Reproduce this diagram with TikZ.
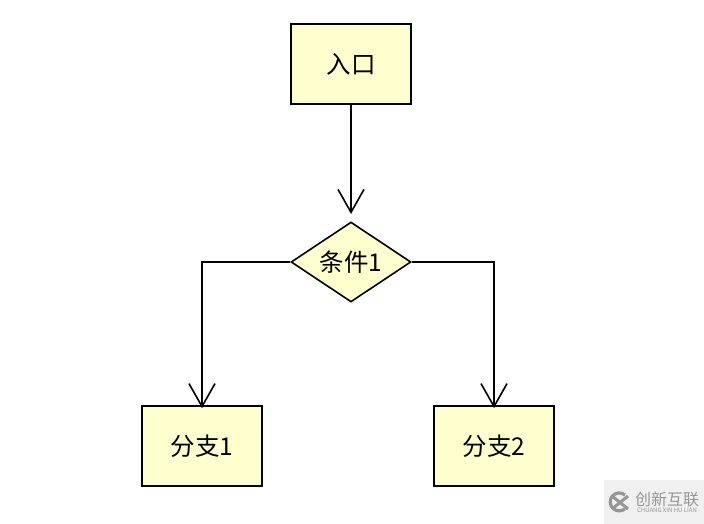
\documentclass[tikz,border=0pt]{standalone}
\usepackage{fontspec}
\setmainfont{Noto Sans CJK SC}
\usetikzlibrary{shapes.geometric,arrows.meta}
\definecolor{boxfill}{RGB}{254,254,206}
\definecolor{markgray}{RGB}{150,150,150}
\definecolor{markbg}{RGB}{240,240,240}
\tikzset{
  boxnode/.style={draw=black,fill=boxfill,line width=1.6pt,minimum width=120pt,minimum height=80pt,inner sep=0pt,font=\fontsize{24.5}{26}\selectfont},
  condnode/.style={diamond,aspect=1.5,draw=black,fill=boxfill,line width=1.6pt,minimum width=120pt,minimum height=80pt,inner sep=0pt,font=\fontsize{24.5}{26}\selectfont},
  flow/.style={draw=black,line width=1.6pt,-{Straight Barb[length=23pt,width=26pt,line width=1.6pt]}},
}
\begin{document}
\begin{tikzpicture}[x=1pt,y=-1pt]
\useasboundingbox (0,0) rectangle (704,524);
\node[boxnode] (entry) at (351,64) {入口};
\node[condnode] (cond) at (351,262) {条件1};
\node[boxnode] (left) at (202,446) {分支1};
\node[boxnode] (right) at (494,446) {分支2};
\coordinate (condtop) at (351,214);
\coordinate (leftturn) at (202,262);
\coordinate (rightturn) at (494,262);
\draw[flow] (entry.south) -- (condtop);
\draw[flow,shorten >=-3pt] (cond.west) -- (leftturn) -- (left.north);
\draw[flow,shorten >=-3pt] (cond.east) -- (rightturn) -- (right.north);
% watermark
\fill[markbg] (604,480) rectangle (704,524);
\draw[markgray,line width=3.2pt] (625,495) arc (-50:-310:9);
\draw[markgray,line width=3pt] (612,496) -- (628,509) (628,496) -- (612,509);
\node[inner sep=0pt,text=markgray,font=\fontsize{16}{18}\selectfont] (wmcn) at (667,499) {创新互联};
\node[inner sep=0pt,text=markgray,font=\fontsize{6}{7}\selectfont] (wmen) at (667,510) {CHUANG XIN HU LIAN};
\end{tikzpicture}
\end{document}
